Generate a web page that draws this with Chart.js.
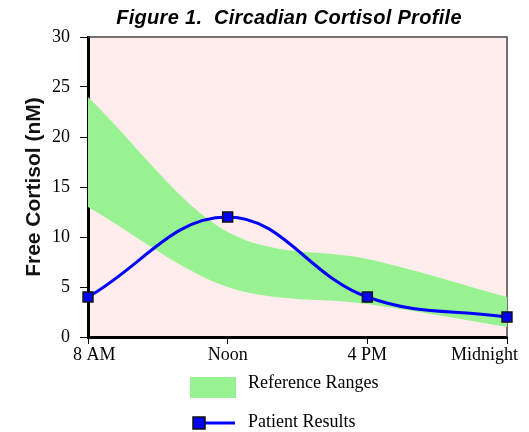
<!DOCTYPE html>
<html>
<head>
<meta charset="utf-8">
<script src="https://cdn.jsdelivr.net/npm/chart.js@4"></script>
<style>
  html, body { margin: 0; padding: 0; background: #fff; }
  #wrap { width: 529px; height: 432px; }
</style>
</head>
<body>
<div id="wrap"><canvas id="myChart" width="529" height="432"></canvas></div>
<script>
// values
const timeLabels = ['8 AM', 'Noon', '4 PM', 'Midnight'];
const patientValues = [4, 12, 4, 2];
const refLower = [13, 5, 3.3, 1];
const refUpper = [24, 10.5, 7.8, 4];
const yTicks = [0, 5, 10, 15, 20, 25, 30];

const titleText = 'Figure 1.  Circadian Cortisol Profile';
const yTitle = 'Free Cortisol (nM)';
const refLabel = 'Reference Ranges';
const patientLabel = 'Patient Results';

const pink = 'rgb(255, 236, 236)';
const green = 'rgb(152, 242, 146)';
const blue = 'rgb(0, 0, 255)';
const serif = '"Liberation Serif", "Times New Roman", serif';
const sans = '"Liberation Sans", Arial, sans-serif';

// pink plot background + thin frame on top/right
const frame = {
  id: 'frame',
  beforeDraw(chart) {
    const {ctx, chartArea: a} = chart;
    ctx.save();
    ctx.fillStyle = pink;
    ctx.fillRect(a.left, a.top, a.right - a.left, a.bottom - a.top);
    ctx.restore();
  },
  beforeDatasetsDraw(chart) {
    const {ctx, chartArea: a} = chart;
    ctx.save();
    ctx.strokeStyle = '#444';
    ctx.lineWidth = 1.5;
    ctx.beginPath();
    ctx.moveTo(a.left, a.top);
    ctx.lineTo(a.right, a.top);
    ctx.lineTo(a.right, a.bottom);
    ctx.stroke();
    ctx.restore();
  }
};

// title, x labels and the stacked legend underneath
const extras = {
  id: 'extras',
  afterDraw(chart) {
    const {ctx, chartArea: a} = chart;
    const xs = chart.scales.x;
    ctx.save();

    ctx.fillStyle = '#000';
    ctx.font = 'italic bold 20px ' + sans;
    ctx.letterSpacing = '0.3px';
    ctx.textAlign = 'center';
    ctx.textBaseline = 'middle';
    ctx.fillText(titleText, 289, 18);
    ctx.letterSpacing = '0px';

    ctx.font = '18px ' + serif;
    xs.ticks.forEach((t, i) => {
      const label = xs.getLabelForValue(t.value);
      const w = ctx.measureText(label).width;
      let cx = xs.getPixelForTick(i);
      cx = Math.max(cx, a.left - 15 + w / 2);
      cx = Math.min(cx, a.right + 11 - w / 2);
      ctx.fillText(label, cx, a.bottom + 18);
    });

    // legend
    const lx = 190;
    ctx.textAlign = 'left';
    ctx.fillStyle = green;
    ctx.fillRect(lx, a.bottom + 40, 46, 21);
    ctx.fillStyle = '#000';
    ctx.fillText(chart.data.datasets[2].label, lx + 58, a.bottom + 46);

    const ly = a.bottom + 86;
    ctx.strokeStyle = blue;
    ctx.lineWidth = 3;
    ctx.beginPath();
    ctx.moveTo(lx + 8, ly);
    ctx.lineTo(lx + 45, ly);
    ctx.stroke();
    ctx.fillStyle = blue;
    ctx.strokeStyle = '#111';
    ctx.lineWidth = 1.5;
    ctx.fillRect(lx + 3, ly - 6, 12, 12);
    ctx.strokeRect(lx + 3, ly - 6, 12, 12);
    ctx.fillStyle = '#000';
    ctx.fillText(chart.data.datasets[0].label, lx + 58, ly - 1);
    ctx.restore();
  }
};

const data = {
  labels: timeLabels,
  datasets: [{
    label: patientLabel,
    data: patientValues,
    borderColor: blue,
    borderWidth: 3,
    backgroundColor: blue,
    pointStyle: 'rect',
    pointRadius: 7,
    pointBorderColor: '#111',
    pointBorderWidth: 1.5,
    pointBackgroundColor: blue,
    tension: 0.4,
    clip: false,
    fill: false
  },
  {
    label: 'lower',
    data: refLower,
    borderWidth: 0,
    borderColor: 'rgba(0,0,0,0)',
    pointRadius: 0,
    cubicInterpolationMode: 'monotone',
    fill: false
  },
  {
    label: refLabel,
    data: refUpper,
    borderWidth: 0,
    borderColor: 'rgba(0,0,0,0)',
    backgroundColor: green,
    pointRadius: 0,
    cubicInterpolationMode: 'monotone',
    fill: 1
  }]
};

const config = {
  type: 'line',
  data: data,
  options: {
    responsive: false,
    animation: false,
    layout: { padding: { top: 37, right: 22, bottom: 65, left: 0 } },
    plugins: {
      legend: { display: false },
      title: { display: false },
      tooltip: { enabled: false }
    },
    scales: {
      x: {
        offset: false,
        grid: { drawOnChartArea: false, drawTicks: true, tickLength: 7, color: '#000' },
        border: { display: true, color: '#000', width: 3 },
        ticks: { display: false },
        afterFit(s) { s.height = 30; s.paddingLeft = 0; s.paddingRight = 0; }
      },
      y: {
        min: 0,
        max: 30,
        afterBuildTicks(s) { s.ticks = yTicks.map(v => ({ value: v })); },
        grid: { drawOnChartArea: false, drawTicks: true, tickLength: 8, color: '#000' },
        border: { display: true, color: '#000', width: 3 },
        ticks: { color: '#000', padding: 10, font: { family: serif, size: 18 } },
        title: {
          display: true,
          text: yTitle,
          color: '#111',
          font: { family: sans, size: 21, weight: 'bold' },
          padding: { top: 22, bottom: 0 }
        },
        afterFit(s) { s.width = 88; }
      }
    }
  },
  plugins: [frame, extras]
};

const myChart = new Chart(document.getElementById('myChart'), config);
</script>
</body>
</html>
